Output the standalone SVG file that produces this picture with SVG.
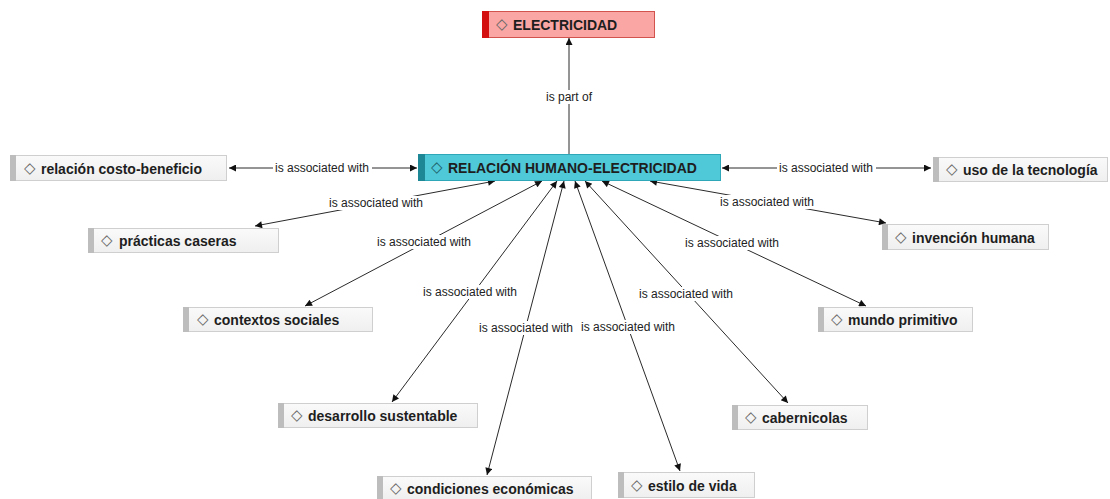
<svg xmlns="http://www.w3.org/2000/svg" width="1110" height="499" viewBox="0 0 1110 499">
<defs>
<style>
.leaf rect.b{fill:url(#gLeaf);stroke:#cfcfcf;stroke-width:1}
.leaf rect.bar{fill:#bdbdbd}
.t{font-family:"Liberation Sans",Arial,sans-serif;font-weight:bold;font-size:14px;fill:#1e1e1e;dominant-baseline:central}
.d{font-family:"DejaVu Sans",sans-serif;font-weight:normal;font-size:15px;fill:#666}
.e{stroke:#2a2a2a;stroke-width:1;fill:none}
.lb{font-family:"Liberation Sans",Arial,sans-serif;font-size:12px;fill:#222;text-anchor:middle;dominant-baseline:central}
.lbg{fill:#fff}
</style>
<linearGradient id="gLeaf" x1="0" y1="0" x2="0" y2="1"><stop offset="0" stop-color="#fafafa"/><stop offset="1" stop-color="#efefef"/></linearGradient>
<marker id="ah" viewBox="0 0 10 10" refX="10" refY="5" markerWidth="9" markerHeight="7" markerUnits="userSpaceOnUse" orient="auto-start-reverse"><path d="M0,0 L10,5 L0,10 z" fill="#111"/></marker>
</defs>
<rect width="1110" height="499" fill="#fff"/>

<g id="connectors">
<line class="e" x1="569" y1="154" x2="569" y2="38" marker-end="url(#ah)"/>
<line class="e" x1="417" y1="168" x2="229" y2="168" marker-start="url(#ah)" marker-end="url(#ah)"/>
<line class="e" x1="722" y1="168" x2="931" y2="168" marker-start="url(#ah)" marker-end="url(#ah)"/>
<line class="e" x1="495" y1="181" x2="255" y2="226" marker-start="url(#ah)" marker-end="url(#ah)"/>
<line class="e" x1="542" y1="181" x2="305" y2="306" marker-start="url(#ah)" marker-end="url(#ah)"/>
<line class="e" x1="557" y1="181" x2="392" y2="402" marker-start="url(#ah)" marker-end="url(#ah)"/>
<line class="e" x1="564" y1="181" x2="487" y2="475" marker-start="url(#ah)" marker-end="url(#ah)"/>
<line class="e" x1="575" y1="181" x2="680" y2="471" marker-start="url(#ah)" marker-end="url(#ah)"/>
<line class="e" x1="585" y1="181" x2="788" y2="403" marker-start="url(#ah)" marker-end="url(#ah)"/>
<line class="e" x1="602" y1="181" x2="866" y2="306" marker-start="url(#ah)" marker-end="url(#ah)"/>
<line class="e" x1="650" y1="181" x2="886" y2="223" marker-start="url(#ah)" marker-end="url(#ah)"/>

<rect class="lbg" x="543" y="90" width="52" height="14"/>
<text class="lb" x="569" y="97">is part of</text>
<rect class="lbg" x="273" y="161" width="99" height="14"/>
<text class="lb" x="322" y="168">is associated with</text>
<rect class="lbg" x="777" y="161" width="99" height="14"/>
<text class="lb" x="826" y="168">is associated with</text>
<rect class="lbg" x="327" y="196" width="99" height="14"/>
<text class="lb" x="376" y="203">is associated with</text>
<rect class="lbg" x="718" y="195" width="99" height="14"/>
<text class="lb" x="767" y="202">is associated with</text>
<rect class="lbg" x="375" y="235" width="99" height="14"/>
<text class="lb" x="424" y="242">is associated with</text>
<rect class="lbg" x="683" y="236" width="99" height="14"/>
<text class="lb" x="732" y="243">is associated with</text>
<rect class="lbg" x="421" y="285" width="99" height="14"/>
<text class="lb" x="470" y="292">is associated with</text>
<rect class="lbg" x="637" y="287" width="99" height="14"/>
<text class="lb" x="686" y="294">is associated with</text>
<rect class="lbg" x="477" y="321" width="99" height="14"/>
<text class="lb" x="526" y="328">is associated with</text>
<rect class="lbg" x="579" y="320" width="99" height="14"/>
<text class="lb" x="628" y="327">is associated with</text>
</g>

<g id="n-electricidad">
<rect x="482.5" y="11.5" width="172" height="26" fill="#f9a6a4" stroke="#d2524e"/>
<rect x="482" y="11" width="7" height="27" fill="#d40f0f"/>
<text class="t" x="496" y="23.5"><tspan class="d">◇</tspan><tspan x="513" y="24.5">ELECTRICIDAD</tspan></text>
</g>

<g id="n-central">
<rect x="418.5" y="154.5" width="302" height="26" fill="#4fc8d8" stroke="#2ea7b8"/>
<rect x="418" y="154" width="7" height="27" fill="#1d8795"/>
<text class="t" x="431" y="166.5"><tspan class="d" style="fill:#1d5f69">◇</tspan><tspan x="448" y="167.5">RELACIÓN HUMANO-ELECTRICIDAD</tspan></text>
</g>

<g id="n-relacion" class="leaf">
<rect class="b" x="10.5" y="155.5" width="216" height="25"/>
<rect class="bar" x="10" y="155" width="6" height="26"/>
<text class="t" x="24" y="167.5"><tspan class="d">◇</tspan><tspan x="41" y="168.5">relación costo-beneficio</tspan></text>
</g>

<g id="n-uso" class="leaf">
<rect class="b" x="933.5" y="157.5" width="174" height="24"/>
<rect class="bar" x="933" y="157" width="6" height="25"/>
<text class="t" x="946" y="168.5"><tspan class="d">◇</tspan><tspan x="963" y="169.5">uso de la tecnología</tspan></text>
</g>

<g id="n-practicas" class="leaf">
<rect class="b" x="88.5" y="228.5" width="190" height="24"/>
<rect class="bar" x="88" y="228" width="6" height="25"/>
<text class="t" x="101" y="239.5"><tspan class="d">◇</tspan><tspan x="119" y="240.5">prácticas caseras</tspan></text>
</g>

<g id="n-invencion" class="leaf">
<rect class="b" x="882.5" y="224.5" width="166" height="25"/>
<rect class="bar" x="882" y="224" width="6" height="26"/>
<text class="t" x="895" y="236.5"><tspan class="d">◇</tspan><tspan x="912" y="237.5">invención humana</tspan></text>
</g>

<g id="n-contextos" class="leaf">
<rect class="b" x="183.5" y="307.5" width="189" height="24"/>
<rect class="bar" x="183" y="307" width="6" height="25"/>
<text class="t" x="197" y="318.5"><tspan class="d">◇</tspan><tspan x="214" y="319.5">contextos sociales</tspan></text>
</g>

<g id="n-mundo" class="leaf">
<rect class="b" x="818.5" y="307.5" width="154" height="24"/>
<rect class="bar" x="818" y="307" width="6" height="25"/>
<text class="t" x="831" y="318.5"><tspan class="d">◇</tspan><tspan x="848" y="319.5">mundo primitivo</tspan></text>
</g>

<g id="n-desarrollo" class="leaf">
<rect class="b" x="278.5" y="403.5" width="199" height="24"/>
<rect class="bar" x="278" y="403" width="6" height="25"/>
<text class="t" x="291" y="414.5"><tspan class="d">◇</tspan><tspan x="308" y="415.5">desarrollo sustentable</tspan></text>
</g>

<g id="n-cabernicolas" class="leaf">
<rect class="b" x="732.5" y="405.5" width="135" height="24"/>
<rect class="bar" x="732" y="405" width="6" height="25"/>
<text class="t" x="745" y="416.5"><tspan class="d">◇</tspan><tspan x="762" y="417.5">cabernicolas</tspan></text>
</g>

<g id="n-condiciones" class="leaf">
<rect class="b" x="377.5" y="476.5" width="214" height="24"/>
<rect class="bar" x="377" y="476" width="6" height="25"/>
<text class="t" x="390" y="487.5"><tspan class="d">◇</tspan><tspan x="407" y="488.5">condiciones económicas</tspan></text>
</g>

<g id="n-estilo" class="leaf">
<rect class="b" x="618.5" y="472.5" width="136" height="25"/>
<rect class="bar" x="618" y="472" width="6" height="26"/>
<text class="t" x="631" y="484.5"><tspan class="d">◇</tspan><tspan x="648" y="485.5">estilo de vida</tspan></text>
</g>
</svg>
